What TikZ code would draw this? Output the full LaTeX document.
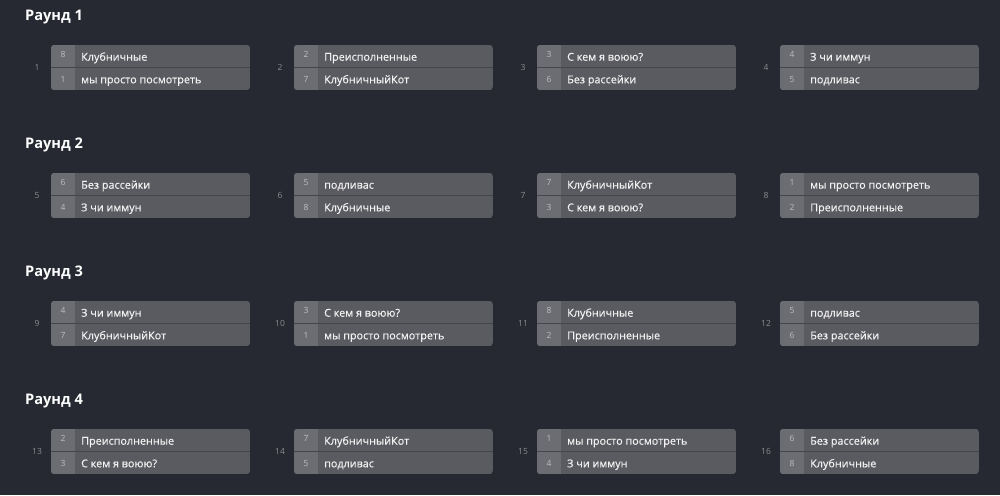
\documentclass[tikz,border=0pt]{standalone}
\usepackage{fontspec}
\setmainfont{Open Sans}
\newfontfamily\namefont[FakeBold=0.35]{Open Sans}
\definecolor{bg}{HTML}{262832}
\definecolor{cellmain}{HTML}{5A5A61}
\definecolor{cellseed}{HTML}{6C6C73}
\definecolor{divider}{HTML}{45454C}
\definecolor{seedtxt}{HTML}{BDBDC1}
\definecolor{numtxt}{HTML}{8C8C90}
\definecolor{nametxt}{HTML}{F2F2F2}
\tikzset{
  roundhead/.style={anchor=base west, font=\fontsize{14.6}{16}\selectfont\bfseries, text=white, inner sep=0pt},
  matchnum/.style={font=\fontsize{8.5}{9}\selectfont, text=numtxt, inner sep=0pt},
  seednum/.style={font=\fontsize{8.5}{9}\selectfont, text=seedtxt, inner sep=0pt},
  teamname/.style={anchor=base west, font=\namefont\fontsize{10.8}{12}\selectfont, text=nametxt, inner sep=0pt},
  matchbox/.style={draw=none, minimum width=199pt, minimum height=45pt, inner sep=0pt, rounded corners=3pt},
}
\newcommand{\bmatch}[7]{%
  % #1 id, #2 left x, #3 top y, #4 seed1, #5 name1, #6 seed2, #7 name2
  \begin{scope}
    \clip[rounded corners=3pt] (#2,-#3) rectangle ++(199,-45);
    \fill[cellmain] (#2,-#3) rectangle ++(199,-45);
    \fill[cellseed] (#2,-#3) rectangle ++(24,-45);
    \draw[divider, line width=1pt] (#2,-#3-22.5) -- ++(199,0);
  \end{scope}
  \node[matchbox, anchor=north west] (m#1) at (#2,-#3) {};
  \node[matchnum] (n#1) at ([xshift=-14pt]m#1.west) {#1};
  \node[seednum] (s#1a) at ([xshift=12pt, yshift=-9.8pt]m#1.north west) {#4};
  \node[seednum] (s#1b) at ([xshift=12pt, yshift=-34.3pt]m#1.north west) {#6};
  \node[teamname] (t#1a) at ([xshift=30pt, yshift=-15.7pt]m#1.north west) {#5};
  \node[teamname] (t#1b) at ([xshift=30pt, yshift=-38.3pt]m#1.north west) {#7};
}
\begin{document}
\begin{tikzpicture}[x=1pt,y=1pt]
\fill[bg] (0,0) rectangle (1000,-495);
\useasboundingbox (0,0) rectangle (1000,-495);
\node[roundhead] (r1) at (25,-21) {Раунд 1};
\node[roundhead] (r2) at (25,-148) {Раунд 2};
\node[roundhead] (r3) at (25,-276) {Раунд 3};
\node[roundhead] (r4) at (25,-404) {Раунд 4};
% Round 1
\bmatch{1}{51}{45}{8}{Клубничные}{1}{мы просто посмотреть}
\bmatch{2}{294}{45}{2}{Преисполненные}{7}{КлубничныйКот}
\bmatch{3}{537}{45}{3}{С кем я воюю?}{6}{Без рассейки}
\bmatch{4}{780}{45}{4}{З чи иммун}{5}{подливас}
% Round 2
\bmatch{5}{51}{173}{6}{Без рассейки}{4}{З чи иммун}
\bmatch{6}{294}{173}{5}{подливас}{8}{Клубничные}
\bmatch{7}{537}{173}{7}{КлубничныйКот}{3}{С кем я воюю?}
\bmatch{8}{780}{173}{1}{мы просто посмотреть}{2}{Преисполненные}
% Round 3
\bmatch{9}{51}{301}{4}{З чи иммун}{7}{КлубничныйКот}
\bmatch{10}{294}{301}{3}{С кем я воюю?}{1}{мы просто посмотреть}
\bmatch{11}{537}{301}{8}{Клубничные}{2}{Преисполненные}
\bmatch{12}{780}{301}{5}{подливас}{6}{Без рассейки}
% Round 4
\bmatch{13}{51}{429}{2}{Преисполненные}{3}{С кем я воюю?}
\bmatch{14}{294}{429}{7}{КлубничныйКот}{5}{подливас}
\bmatch{15}{537}{429}{1}{мы просто посмотреть}{4}{З чи иммун}
\bmatch{16}{780}{429}{6}{Без рассейки}{8}{Клубничные}
\end{tikzpicture}
\end{document}
